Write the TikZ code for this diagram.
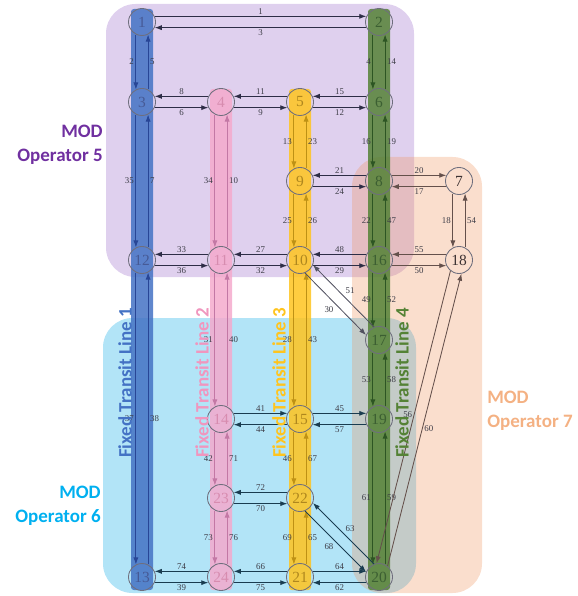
\documentclass[tikz,border=0pt]{standalone}
\usepackage{fontspec}
\setmainfont{Liberation Serif}
\newfontfamily\calibri{Carlito}
\usetikzlibrary{arrows.meta}
\definecolor{mod5}{RGB}{150,100,200}
\definecolor{mod6}{RGB}{0,165,230}
\definecolor{mod7}{RGB}{240,145,90}
\definecolor{mod5c}{RGB}{112,48,160}
\definecolor{mod6c}{RGB}{0,176,240}
\definecolor{mod7c}{RGB}{244,177,131}
\definecolor{line1}{RGB}{68,114,196}
\definecolor{line2}{RGB}{244,170,205}
\definecolor{line3}{RGB}{255,196,30}
\definecolor{line4}{RGB}{84,130,53}
\definecolor{line2t}{RGB}{240,150,190}
\definecolor{l1e}{RGB}{40,70,150}
\definecolor{l2e}{RGB}{195,120,165}
\definecolor{l3e}{RGB}{190,145,20}
\definecolor{l4e}{RGB}{45,85,35}
\definecolor{t1}{RGB}{70,90,150}
\definecolor{t2}{RGB}{215,140,175}
\definecolor{t3}{RGB}{175,135,30}
\definecolor{t4}{RGB}{60,95,50}
\definecolor{t5}{RGB}{60,50,50}
\definecolor{edgec}{RGB}{45,45,70}
\definecolor{edgeo}{RGB}{100,80,75}
\definecolor{edgeb}{RGB}{25,60,80}
\definecolor{edgeg}{RGB}{80,80,95}
\definecolor{nodeline}{RGB}{110,110,125}
\definecolor{lblc}{RGB}{60,60,70}

\begin{document}
\begin{tikzpicture}[
    x=0.025cm,y=-0.025cm,
    region/.style={fill=#1,fill opacity=0.3,rounded corners=21pt},
    band/.style={fill=#1,fill opacity=0.85,rounded corners=2pt},
    station/.style={circle,draw=nodeline,line width=0.6pt,minimum size=0.675cm,
      inner sep=0pt,text=#1,font=\fontsize{11}{11}\selectfont},
    link/.style={-{Latex[length=5pt,width=3.6pt]},line width=0.6pt,draw=#1},
    lbl/.style={font=\fontsize{6.3}{7}\selectfont,text=lblc,inner sep=1.2pt},
    modlbl/.style={font=\calibri\bfseries\fontsize{13.5}{17}\selectfont,text=#1,inner sep=0pt},
    linelbl/.style={font=\calibri\bfseries\fontsize{13.5}{15}\selectfont,text=#1,
      rotate=90,inner sep=0pt},
  ]
  \useasboundingbox (0,0) rectangle (577,596);

  % operator regions
  \fill[region=mod5] (106,4) rectangle (414,277);
  \fill[region=mod6] (103,318) rectangle (416,593);
  \fill[region=mod7] (352,157) rectangle (482,593);

  % transit line bands
  \fill[band=line1] (131,9) rectangle (153,590);
  \fill[band=line2] (210,89) rectangle (232,590);
  \fill[band=line3] (289,89) rectangle (311,590);
  \fill[band=line4] (368,9) rectangle (390,590);

  % stations
  \foreach \n/\x/\y/\c in {1/142/22/t1, 3/142/102/t1, 12/142/260/t1, 13/142/577/t1,
                          4/221/102/t2, 11/221/260/t2, 14/221/419/t2, 23/221/498/t2, 24/221/577/t2,
                          5/300/102/t3, 9/300/181/t3, 10/300/260/t3, 15/300/419/t3, 22/300/498/t3, 21/300/577/t3,
                          2/379/22/t4, 6/379/102/t4, 8/379/181/t4, 16/379/260/t4, 17/379/340/t4,
                          19/379/419/t4, 20/379/577/t4,
                          7/459/181/t5, 18/459/260/t5} {
    \node[station=\c] (n\n) at (\x,\y) {\n};
  }

  % horizontal links
  \foreach \src/\sa/\dst/\da/\lab/\side/\col in {
      n1/24/n2/156/1/above/edgec,     n2/-156/n1/-24/3/below/edgec,
      n4/156/n3/24/8/above/edgec,     n3/-24/n4/-156/6/below/edgec,
      n5/156/n4/24/11/above/edgec,    n4/-24/n5/-156/9/below/edgec,
      n6/156/n5/24/15/above/edgec,    n5/-24/n6/-156/12/below/edgec,
      n8/156/n9/24/21/above/edgec,    n9/-24/n8/-156/24/below/edgec,
      n8/24/n7/156/20/above/edgeo,    n7/-156/n8/-24/17/below/edgeo,
      n11/156/n12/24/33/above/edgec,  n12/-24/n11/-156/36/below/edgec,
      n10/156/n11/24/27/above/edgec,  n11/-24/n10/-156/32/below/edgec,
      n16/156/n10/24/48/above/edgec,  n10/-24/n16/-156/29/below/edgec,
      n18/156/n16/24/55/above/edgeo,  n16/-24/n18/-156/50/below/edgeo,
      n14/24/n15/156/41/above/edgeb,  n15/-156/n14/-24/44/below/edgeb,
      n15/24/n19/156/45/above/edgeb,  n19/-156/n15/-24/57/below/edgeb,
      n22/156/n23/24/72/above/edgeb,  n23/-24/n22/-156/70/below/edgeb,
      n24/156/n13/24/74/above/edgeb,  n13/-24/n24/-156/39/below/edgeb,
      n21/156/n24/24/66/above/edgeb,  n24/-24/n21/-156/75/below/edgeb,
      n21/24/n20/156/64/above/edgeb,  n20/-156/n21/-24/62/below/edgeb} {
    \draw[link=\col] (\src.\sa) -- (\dst.\da) node[lbl,midway,\side] {\lab};
  }

  % vertical links, down on the left and up on the right
  \foreach \na/\nb/\ll/\rl/\col in {
      n1/n3/2/5/l1e, n3/n12/35/7/l1e, n12/n13/37/38/l1e,
      n4/n11/34/10/l2e, n11/n14/31/40/l2e, n14/n23/42/71/l2e, n23/n24/73/76/l2e,
      n5/n9/13/23/l3e, n9/n10/25/26/l3e, n10/n15/28/43/l3e, n15/n22/46/67/l3e, n22/n21/69/65/l3e,
      n2/n6/4/14/l4e, n6/n8/16/19/l4e, n8/n16/22/47/l4e, n16/n17/49/52/l4e,
      n17/n19/53/58/l4e, n19/n20/61/59/l4e,
      n7/n18/18/54/edgeo} {
    \draw[link=\col] (\na.-116) -- (\nb.116) node[lbl,midway,left] {\ll};
    \draw[link=\col] (\nb.64) -- (\na.-64) node[lbl,midway,right] {\rl};
  }

  % diagonal links
  \draw[link=edgeg] (n17.111) -- (n10.-21) node[lbl,midway,above right] {51};
  \draw[link=edgeg] (n10.-69) -- (n17.159) node[lbl,midway,below left] {30};
  \draw[link=edgeb] (n20.111) -- (n22.-21) node[lbl,midway,above right] {63};
  \draw[link=edgeb] (n22.-69) -- (n20.159) node[lbl,midway,below left] {68};
  \draw[link=edgeo] (n18.-128) -- (n20.100) node[lbl,pos=0.49,left] {56};
  \draw[link=edgeo] (n20.52) -- (n18.-80) node[lbl,pos=0.47,right] {60};

  % labels
  \node[modlbl=mod5c,anchor=east,align=right] (op5) at (103,145) {MOD\\Operator 5};
  \node[modlbl=mod6c,anchor=east,align=right] (op6) at (101,506) {MOD\\Operator 6};
  \node[modlbl=mod7c,anchor=west,align=left] (op7) at (487,411) {MOD\\Operator 7};

  \node[linelbl=line1] (tl1) at (125,383) {Fixed Transit Line 1};
  \node[linelbl=line2t] (tl2) at (202,383) {Fixed Transit Line 2};
  \node[linelbl=line3] (tl3) at (279,383) {Fixed Transit Line 3};
  \node[linelbl=line4] (tl4) at (402,383) {Fixed Transit Line 4};

\end{tikzpicture}
\end{document}
